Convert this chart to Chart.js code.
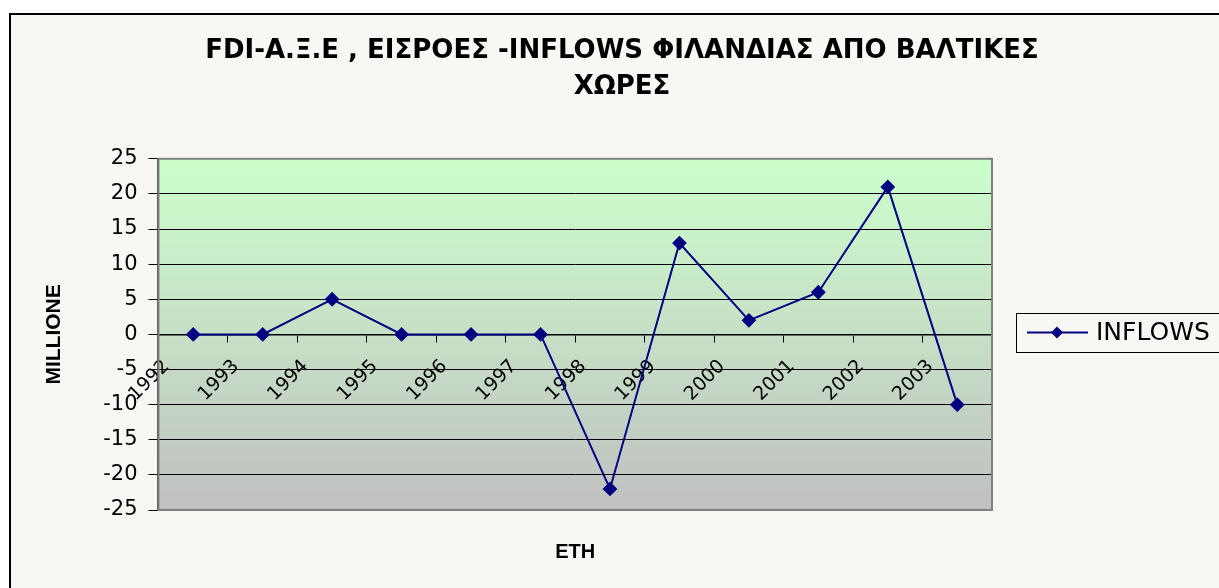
<!DOCTYPE html>
<html>
<head>
<meta charset="utf-8">
<script src="https://cdn.jsdelivr.net/npm/chart.js@4.4.0/dist/chart.umd.min.js"></script>
<style>
  html, body { margin: 0; padding: 0; background: #fff; width: 1219px; height: 588px; overflow: hidden; }
  #frame { position: absolute; left: 9px; top: 13px; width: 1240px; height: 600px; border: 2px solid #000; background: #f8f7f3; }
  #wrap { position: absolute; left: 0; top: 0; width: 1222px; height: 575px; }
</style>
</head>
<body>
<div id="frame"><div id="wrap"><canvas id="myChart"></canvas></div></div>
<script>
// chart data
const years = ["1992", "1993", "1994", "1995", "1996", "1997", "1998", "1999", "2000", "2001", "2002", "2003"];
const inflows = [0, 0, 5, 0, 0, 0, -22, 13, 2, 6, 21, -10];
const yMin = -25;
const yMax = 25;
const yStep = 5;

const chartTitle = ["FDI-Α.Ξ.Ε , ΕΙΣΡΟΕΣ -INFLOWS ΦΙΛΑΝΔΙΑΣ ΑΠΟ ΒΑΛΤΙΚΕΣ", "ΧΩΡΕΣ"];
const xTitle = "ΕΤΗ";
const yTitle = "MILLIONE";
const seriesName = "INFLOWS";

const navy = "#000080";
const wide = "'DejaVu Sans', Verdana, sans-serif";
const arial = "'Liberation Sans', Arial, sans-serif";
const narrow = "'Liberation Sans Narrow', 'Liberation Sans', Arial, sans-serif";

// gradient plot background, plot border and the framed legend at the right
const excelLook = {
  id: "excelLook",
  beforeDraw(chart) {
    const a = chart.chartArea;
    const ctx = chart.ctx;
    const grad = ctx.createLinearGradient(0, a.top, 0, a.bottom);
    grad.addColorStop(0, "#ccffcc");
    grad.addColorStop(1, "#c0c0c0");
    ctx.save();
    ctx.fillStyle = grad;
    ctx.fillRect(a.left, a.top, a.right - a.left, a.bottom - a.top);
    ctx.restore();
  },
  afterDraw(chart) {
    const a = chart.chartArea;
    const ctx = chart.ctx;
    ctx.save();
    ctx.strokeStyle = "#808080";
    ctx.lineWidth = 2;
    ctx.strokeRect(a.left, a.top, a.right - a.left, a.bottom - a.top);

    // legend
    const ds = chart.data.datasets[0];
    const midY = chart.scales.y.getPixelForValue(0) - 2;
    const bx = a.right + 24;
    ctx.strokeStyle = "#000";
    ctx.lineWidth = 1;
    ctx.strokeRect(bx + 0.5, Math.round(midY - 19) + 0.5, 230, 39);
    ctx.strokeStyle = ds.borderColor;
    ctx.lineWidth = 2;
    ctx.beginPath();
    ctx.moveTo(bx + 11, midY);
    ctx.lineTo(bx + 72, midY);
    ctx.stroke();
    ctx.fillStyle = ds.borderColor;
    ctx.beginPath();
    ctx.moveTo(bx + 41, midY - 6);
    ctx.lineTo(bx + 47, midY);
    ctx.lineTo(bx + 41, midY + 6);
    ctx.lineTo(bx + 35, midY);
    ctx.closePath();
    ctx.fill();
    ctx.fillStyle = "#000";
    ctx.font = "25px " + wide;
    ctx.textBaseline = "middle";
    ctx.fillText(ds.label, bx + 80, midY + 1);
    ctx.restore();
  }
};

const config = {
  type: "line",
  data: {
    labels: years,
    datasets: [
      {
        label: seriesName,
        data: inflows,
        borderColor: navy,
        backgroundColor: navy,
        borderWidth: 2,
        pointStyle: "rectRot",
        pointRadius: 6,
        pointBackgroundColor: navy,
        pointBorderColor: navy,
        tension: 0,
        fill: false,
        xAxisID: "x",
        yAxisID: "y"
      }
    ]
  },
  options: {
    responsive: true,
    maintainAspectRatio: false,
    animation: false,
    layout: { padding: { left: 0, right: 0, top: 0, bottom: 26 } },
    plugins: {
      tooltip: { enabled: false },
      legend: { display: false },
      title: {
        display: true,
        text: chartTitle,
        color: "#000",
        font: { family: wide, size: 26, weight: "bold", lineHeight: 1.4 },
        padding: { top: 18, bottom: 53 }
      }
    },
    scales: {
      x: {
        type: "category",
        offset: true,
        position: "bottom",
        ticks: { display: false },
        grid: { display: false },
        border: { display: false },
        title: {
          display: true,
          text: xTitle,
          color: "#000",
          font: { family: narrow, size: 20, weight: "bold" },
          padding: { top: 22, bottom: 0 }
        }
      },
      xYears: {
        type: "linear",
        position: { y: 0 },
        min: 0,
        max: years.length,
        grid: { drawOnChartArea: false, drawTicks: true, tickLength: 7, color: "#000" },
        border: { display: true, color: "#000", width: 1.5 },
        ticks: {
          stepSize: 1,
          autoSkip: false,
          minRotation: 45,
          maxRotation: 45,
          padding: 14,
          labelOffset: 8,
          color: "#000",
          font: { family: wide, size: 19 },
          callback: (v) => (years[v] !== undefined ? years[v] : "")
        }
      },
      y: {
        min: yMin,
        max: yMax,
        ticks: {
          stepSize: yStep,
          padding: 11,
          color: "#000",
          font: { family: wide, size: 21 }
        },
        grid: { color: "#000", lineWidth: 1, tickLength: 10 },
        border: { display: true, color: "#404040", width: 2 },
        title: {
          display: true,
          text: yTitle,
          color: "#000",
          font: { family: arial, size: 21, weight: "bold" },
          padding: { top: 31, bottom: 25 }
        }
      },
      // empty axis that only keeps room for the legend
      legendRoom: {
        type: "linear",
        position: "right",
        display: true,
        ticks: { display: false },
        grid: { display: false },
        border: { display: false },
        afterFit: (scale) => { scale.width = 241; }
      }
    }
  },
  plugins: [excelLook]
};

new Chart(document.getElementById("myChart"), config);
</script>
</body>
</html>
